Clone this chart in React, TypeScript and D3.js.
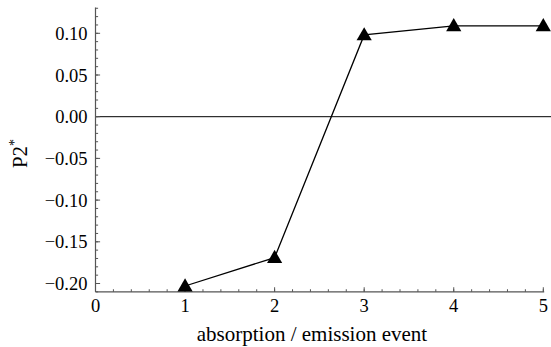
import React from "react";
import * as d3 from "d3";

const events = [1, 2, 3, 4, 5];
const p2Values = [-0.203, -0.169, 0.098, 0.109, 0.109];
const xTicks = [0, 1, 2, 3, 4, 5];
const yTicks = [-0.2, -0.15, -0.1, -0.05, 0, 0.05, 0.1];

const W = 551;
const H = 347;

export default function App() {
  const x = d3.scaleLinear().domain([0, 5]).range([95.5, 543.3]);
  const y = d3.scaleLinear().domain([0, 0.1]).range([116.7, 33.3]);
  const xMax = 5.01;
  const yMin = -0.21;
  const yMax = 0.131;
  const axisY = y(yMin);
  const axisX = x(0);

  const xMinor = d3.range(0, 5.001, 0.2);
  const yMinor = d3.range(-0.21, 0.1305, 0.01).map((v) => Math.round(v * 100) / 100);

  const line = d3
    .line<number>()
    .x((_, i) => x(events[i]))
    .y((d) => y(d));

  const tri = d3.symbol().type(d3.symbolTriangle).size(100)();
  const fontStyle = { fontFamily: '"Liberation Serif", "Times New Roman", "DejaVu Serif", serif' };
  const fmt = (v: number) => {
    const s = Math.abs(v).toFixed(2);
    return v < -1e-9 ? "\u2212" + s : s;
  };

  return (
    <svg width={W} height={H} style={{ position: "absolute", left: 0, top: 0 }}>
      <line x1={axisX} x2={W} y1={y(0)} y2={y(0)} stroke="#000" strokeWidth={1} />
      <line x1={axisX} x2={axisX} y1={y(yMax)} y2={axisY} stroke="#555" strokeWidth={1.2} />
      <line x1={axisX} x2={x(xMax)} y1={axisY} y2={axisY} stroke="#555" strokeWidth={1.2} />
      {yMinor.map((v, i) => (
        <line key={"ym" + i} x1={axisX} x2={axisX + 2.6} y1={y(v)} y2={y(v)} stroke="#555" strokeWidth={1} />
      ))}
      {yTicks.map((v, i) => (
        <g key={"yt" + i}>
          <line x1={axisX} x2={axisX + 4.6} y1={y(v)} y2={y(v)} stroke="#555" strokeWidth={1} />
          <text x={axisX - 8} y={y(v) + 6.5} textAnchor="end" fontSize={18.5} style={fontStyle}>
            {fmt(v)}
          </text>
        </g>
      ))}
      {xMinor.map((v, i) => (
        <line key={"xm" + i} x1={x(v)} x2={x(v)} y1={axisY} y2={axisY - 2.6} stroke="#555" strokeWidth={1} />
      ))}
      {xTicks.map((v, i) => (
        <g key={"xt" + i}>
          <line x1={x(v)} x2={x(v)} y1={axisY} y2={axisY - 4.6} stroke="#555" strokeWidth={1} />
          <text x={x(v)} y={axisY + 20} textAnchor="middle" fontSize={18.5} style={fontStyle}>
            {v}
          </text>
        </g>
      ))}
      <path d={line(p2Values) || ""} fill="none" stroke="#000" strokeWidth={1.3} />
      {p2Values.map((v, i) => (
        <path key={"p" + i} d={tri || ""} transform={`translate(${x(events[i])},${y(v) + 1})`} fill="#000" />
      ))}
      <text x={312} y={341} textAnchor="middle" fontSize={21} style={fontStyle}>
        absorption / emission event
      </text>
      <text transform={`translate(27,153.5) rotate(-90)`} textAnchor="middle" fontSize={21} style={fontStyle}>
        P2<tspan dy="-8" fontSize={14}>*</tspan>
      </text>
    </svg>
  );
}
